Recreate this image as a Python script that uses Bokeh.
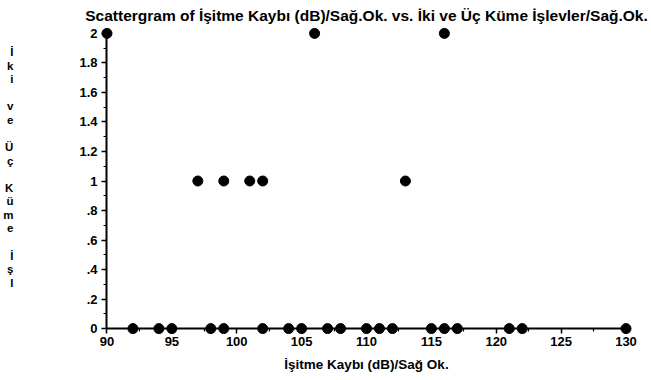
from bokeh.plotting import figure
from bokeh.models import FixedTicker, ColumnDataSource, LinearAxis
from bokeh.embed import file_html
from bokeh.resources import INLINE

# Data
x_level0 = [92, 94, 95, 98, 99, 102, 104, 105, 107, 108, 110, 111, 112, 115, 116, 117, 121, 122, 130]
x_level1 = [97, 99, 101, 102, 113]
x_level2 = [90, 106, 116]

x_vals = x_level0 + x_level1 + x_level2
y_vals = [0] * len(x_level0) + [1] * len(x_level1) + [2] * len(x_level2)

x_ticks = [90, 95, 100, 105, 110, 115, 120, 125, 130]
x_minor = [92.5, 97.5, 102.5, 107.5, 112.5, 117.5, 122.5, 127.5]
y_ticks = [0, 0.2, 0.4, 0.6, 0.8, 1, 1.2, 1.4, 1.6, 1.8, 2]
y_tick_labels = ["0", ".2", ".4", ".6", ".8", "1", "1.2", "1.4", "1.6", "1.8", "2"]
y_minor = [0.1, 0.3, 0.5, 0.7, 0.9, 1.1, 1.3, 1.5, 1.7, 1.9]

title_text = "Scattergram of İşitme Kaybı (dB)/Sağ.Ok. vs. İki ve Üç Küme İşlevler/Sağ.Ok."
x_label_text = "İşitme Kaybı (dB)/Sağ Ok."
y_label_words = ["İki", "ve", "Üç", "Küme", "İşl"]

FONT = "Liberation Sans"

p = figure(width=651, height=380, output_backend="svg", toolbar_location=None,
           x_range=(89.5, 130.5), y_range=(-0.04, 2.04),
           min_border_left=100, min_border_right=19, min_border_top=27, min_border_bottom=46)
p.outline_line_color = None
p.grid.visible = False
p.background_fill_color = "white"
p.border_fill_color = "white"

p.title.text = title_text
p.title.align = "center"
p.title.vertical_align = "top"
p.title.text_font = FONT
p.title.text_font_style = "bold"
p.title.text_font_size = "15.5px"
p.title.text_color = "black"
p.title.standoff = 3

src = ColumnDataSource(dict(x=x_vals, y=y_vals))
p.scatter("x", "y", source=src, size=10, color="black")

# label-only axes at the frame edges
for ax in (p.xaxis[0], p.yaxis[0]):
    ax.axis_line_color = None
    ax.major_tick_line_color = None
    ax.minor_tick_line_color = None
    ax.major_tick_out = 0
    ax.minor_tick_out = 0
    ax.major_tick_in = 0
    ax.minor_tick_in = 0
    ax.major_label_text_font = FONT
    ax.major_label_text_font_style = "bold"
    ax.major_label_text_font_size = "13px"
    ax.major_label_text_color = "black"
    ax.axis_label_text_font = FONT
    ax.axis_label_text_font_style = "bold"
    ax.axis_label_text_color = "black"
p.xaxis.ticker = FixedTicker(ticks=x_ticks, minor_ticks=x_minor)
p.yaxis.ticker = FixedTicker(ticks=y_ticks, minor_ticks=y_minor)
p.yaxis.major_label_overrides = {t: lab for t, lab in zip(y_ticks, y_tick_labels)}
p.xaxis.major_label_standoff = 2
p.yaxis.major_label_standoff = 3

p.xaxis.axis_label = x_label_text
p.xaxis.axis_label_text_font_size = "13.5px"
p.xaxis.axis_label_standoff = 8

p.yaxis.axis_label = "\n\n".join("\n".join(w) for w in y_label_words) + "\n \n "
p.yaxis.axis_label_orientation = "horizontal"
p.yaxis.axis_label_text_font_size = "11.5px"
p.yaxis.axis_label_text_line_height = 1.13
p.yaxis.axis_label_standoff = 63

# line + tick axes pinned at x=90 / y=0
def line_axis(ticks, minor, loc, bounds):
    ax = LinearAxis(ticker=FixedTicker(ticks=ticks, minor_ticks=minor), fixed_location=loc,
                    bounds=bounds)
    ax.axis_line_width = 2
    ax.axis_line_color = "black"
    ax.major_tick_line_color = "black"
    ax.minor_tick_line_color = "black"
    ax.major_tick_line_width = 1.5
    ax.minor_tick_line_width = 1.2
    ax.major_tick_in = 0
    ax.minor_tick_in = 0
    ax.major_tick_out = 5
    ax.minor_tick_out = 3
    ax.major_label_text_font_size = "0px"
    ax.major_label_text_alpha = 0
    return ax

p.add_layout(line_axis(x_ticks, x_minor, 0, (90, 130)), "below")
p.add_layout(line_axis(y_ticks, y_minor, 90, (0, 2)), "left")

open("out.html", "w").write(file_html(p, INLINE))
